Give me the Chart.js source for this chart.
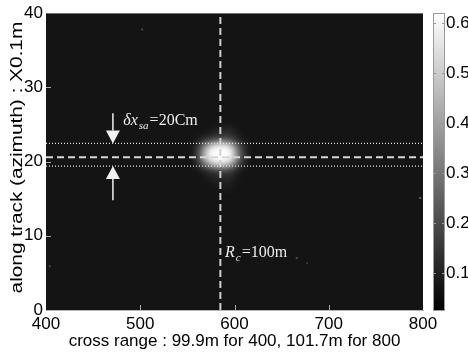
<!DOCTYPE html>
<html>
<head>
<meta charset="utf-8">
<script src="https://cdn.jsdelivr.net/npm/chart.js@4"></script>
<style>
html, body { margin: 0; padding: 0; background: #fff; }
#wrap { position: relative; width: 468px; height: 353px; overflow: hidden; }
#main { position: absolute; left: 0; top: 0; }
#cbar { position: absolute; left: 420px; top: 0; }
</style>
</head>
<body>
<div id="wrap">
  <canvas id="main" width="468" height="353"></canvas>
  <canvas id="cbar" width="48" height="353"></canvas>
</div>
<script>
// ---- axes ----
const xTicks = [400, 500, 600, 700, 800];
const yTicks = [0, 10, 20, 30, 40];
const xTitle = 'cross range : 99.9m for 400, 101.7m for 800';
const yTitle = 'along track (azimuth) : X0.1m';

// ---- colour scale (gray map) ----
const cbMin = 0.024;
const cbMax = 0.62;
const cbTicks = [0.1, 0.2, 0.3, 0.4, 0.5, 0.6];

// ---- image: clutter level and the focused point target ----
const backgroundLevel = 0.07;
const spotCellWidth = 5;     // cross-range bins per cell
const spotCellHeight = 0.5;  // along-track bins per cell
const spotX = [560, 565, 570, 575, 580, 585, 590, 595, 600, 605, 610];
const spotY = [24.5, 24, 23.5, 23, 22.5, 22, 21.5, 21, 20.5, 20, 19.5, 19, 18.5, 18, 17.5, 17, 16.5];
const spotValues = [
  [.07, .07, .07, .08, .09, .10, .11, .11, .10, .08, .07],
  [.07, .07, .08, .09, .10, .11, .12, .12, .10, .08, .07],
  [.07, .08, .09, .10, .12, .13, .14, .13, .11, .09, .07],
  [.08, .10, .13, .16, .19, .21, .21, .19, .15, .11, .08],
  [.10, .15, .23, .31, .37, .40, .39, .34, .25, .16, .10],
  [.13, .22, .36, .50, .58, .61, .60, .53, .38, .23, .13],
  [.15, .27, .45, .60, .62, .62, .62, .61, .46, .27, .14],
  [.16, .29, .48, .62, .62, .62, .62, .62, .49, .29, .15],
  [.16, .29, .47, .62, .62, .62, .62, .62, .48, .28, .15],
  [.14, .25, .41, .56, .62, .62, .62, .57, .42, .25, .13],
  [.11, .18, .28, .38, .45, .48, .46, .40, .29, .18, .10],
  [.08, .11, .15, .20, .24, .26, .26, .23, .17, .11, .08],
  [.07, .08, .10, .12, .14, .15, .16, .15, .12, .09, .07],
  [.07, .07, .09, .10, .11, .12, .13, .12, .10, .08, .07],
  [.07, .07, .08, .09, .10, .11, .11, .11, .09, .07, .07],
  [.07, .07, .07, .08, .09, .10, .10, .10, .08, .07, .07],
  [.07, .07, .07, .07, .08, .09, .09, .09, .08, .07, .07]
];
// isolated bright clutter pixels: [cross range, along track, level]
const specks = [[502, 37.8, 0.20], [404, 5.9, 0.18], [666, 7.0, 0.20], [677, 6.3, 0.16], [797, 15.1, 0.25]];

// ---- annotation geometry (data units) ----
const rcX = 585;                 // scene centre range line
const azCenter = 20.6;           // along-track centre line
const resBand = [19.4, 22.45];   // azimuth resolution cell edges
const arrowX = 471;
const arrowTop = 26.5;
const arrowBottom = 14.8;
const resLabel = { x: 482, y: 24.9, main: 'δx', sub: 'sa', rest: '=20Cm' };
const rcLabel = { x: 590, y: 7.1, main: 'R', sub: 'c', rest: '=100m' };

const fontSans = '"Liberation Sans", Arial, sans-serif';
const fontSerif = '"Liberation Serif", "Times New Roman", serif';

function grayOf(v) {
  const t = Math.max(0, Math.min(1, (v - cbMin) / (cbMax - cbMin)));
  const g = Math.round(t * 255);
  return `rgb(${g},${g},${g})`;
}

const heatmapPlugin = {
  id: 'heatmap',
  beforeDatasetsDraw(chart) {
    const { ctx, chartArea: a, scales: { x, y } } = chart;
    ctx.save();
    ctx.beginPath();
    ctx.rect(a.left, a.top, a.right - a.left, a.bottom - a.top);
    ctx.clip();
    ctx.fillStyle = grayOf(backgroundLevel);
    ctx.fillRect(a.left, a.top, a.right - a.left, a.bottom - a.top);

    // point target response, rendered off-screen then smoothed
    const off = document.createElement('canvas');
    off.width = chart.width; off.height = chart.height;
    const o = off.getContext('2d');
    const hw = spotCellWidth / 2, hh = spotCellHeight / 2;
    spotValues.forEach((row, i) => row.forEach((v, j) => {
      const x0 = x.getPixelForValue(spotX[j] - hw), x1 = x.getPixelForValue(spotX[j] + hw);
      const y0 = y.getPixelForValue(spotY[i] + hh), y1 = y.getPixelForValue(spotY[i] - hh);
      o.fillStyle = grayOf(v);
      o.fillRect(Math.floor(x0), Math.floor(y0), Math.ceil(x1 - x0) + 1, Math.ceil(y1 - y0) + 1);
    }));
    ctx.filter = 'blur(3px)';
    ctx.drawImage(off, 0, 0);
    ctx.filter = 'none';

    specks.forEach(([sx, sy, v]) => {
      const px = x.getPixelForValue(sx), py = y.getPixelForValue(sy);
      ctx.fillStyle = grayOf(v);
      ctx.fillRect(px - 1, py - 1, 2, 2);
    });
    ctx.restore();
  }
};

function drawArrow(ctx, x, tipY, tailY) {
  const dir = tailY < tipY ? 1 : -1; // 1: pointing down
  const headLen = 13, halfW = 7;
  ctx.beginPath();
  ctx.moveTo(x, tailY);
  ctx.lineTo(x, tipY - dir * headLen);
  ctx.stroke();
  ctx.beginPath();
  ctx.moveTo(x, tipY);
  ctx.lineTo(x - halfW, tipY - dir * headLen);
  ctx.lineTo(x + halfW, tipY - dir * headLen);
  ctx.closePath();
  ctx.fill();
}

function drawSubLabel(ctx, px, py, lab) {
  ctx.textBaseline = 'alphabetic';
  ctx.textAlign = 'left';
  ctx.font = `italic 16px ${fontSerif}`;
  ctx.fillText(lab.main, px, py);
  let cx = px + ctx.measureText(lab.main).width + 1;
  ctx.font = `italic 11px ${fontSerif}`;
  ctx.fillText(lab.sub, cx, py + 4);
  cx += ctx.measureText(lab.sub).width + 1;
  ctx.font = `16px ${fontSerif}`;
  ctx.fillText(lab.rest, cx, py);
}

const annotationPlugin = {
  id: 'annotations',
  afterDatasetsDraw(chart) {
    const { ctx, scales: { x, y } } = chart;
    ctx.save();
    ctx.strokeStyle = '#f2f2f2';
    ctx.fillStyle = '#f2f2f2';
    ctx.lineWidth = 1.5;
    const ax = x.getPixelForValue(arrowX);
    drawArrow(ctx, ax, y.getPixelForValue(resBand[1]), y.getPixelForValue(arrowTop));
    drawArrow(ctx, ax, y.getPixelForValue(resBand[0]), y.getPixelForValue(arrowBottom));
    ctx.fillStyle = '#eeeeee';
    drawSubLabel(ctx, x.getPixelForValue(resLabel.x), y.getPixelForValue(resLabel.y), resLabel);
    drawSubLabel(ctx, x.getPixelForValue(rcLabel.x), y.getPixelForValue(rcLabel.y), rcLabel);
    ctx.restore();
  },
  afterDraw(chart) {
    const { ctx, chartArea: a, scales: { x, y } } = chart;
    ctx.save();
    // inward tick marks
    ctx.strokeStyle = '#a8a8a8';
    ctx.lineWidth = 1;
    xTicks.slice(1, -1).forEach(v => {
      const px = Math.round(x.getPixelForValue(v)) + 0.5;
      ctx.beginPath(); ctx.moveTo(px, a.bottom); ctx.lineTo(px, a.bottom - 5); ctx.stroke();
    });
    yTicks.slice(1, -1).forEach(v => {
      const py = Math.round(y.getPixelForValue(v)) + 0.5;
      ctx.beginPath(); ctx.moveTo(a.left, py); ctx.lineTo(a.left + 5, py); ctx.stroke();
    });
    // rotated along-track title
    ctx.translate(18, (a.top + a.bottom) / 2 - 4);
    ctx.rotate(-Math.PI / 2);
    ctx.scale(1.3, 1);
    ctx.font = `16px ${fontSans}`;
    ctx.textAlign = 'center';
    ctx.textBaseline = 'middle';
    ctx.fillStyle = '#000';
    ctx.fillText(yTitle, 0, 0);
    ctx.restore();
  }
};

function lineSet(points, color, width, dash) {
  return {
    data: points, showLine: true, borderColor: color, borderWidth: width,
    borderDash: dash, pointRadius: 0, fill: false, tension: 0
  };
}

new Chart(document.getElementById('main'), {
  type: 'scatter',
  data: {
    datasets: [
      lineSet([{ x: xTicks[0], y: resBand[1] }, { x: xTicks[xTicks.length - 1], y: resBand[1] }], '#e4e4e4', 1.2, [1, 2]),
      lineSet([{ x: xTicks[0], y: resBand[0] }, { x: xTicks[xTicks.length - 1], y: resBand[0] }], '#e4e4e4', 1.2, [1, 2]),
      lineSet([{ x: xTicks[0], y: azCenter }, { x: xTicks[xTicks.length - 1], y: azCenter }], '#d6d6d6', 2, [7, 4]),
      lineSet([{ x: rcX, y: yTicks[0] }, { x: rcX, y: yTicks[yTicks.length - 1] }], '#d0d0d0', 2, [7, 4])
    ]
  },
  options: {
    responsive: false,
    animation: false,
    devicePixelRatio: 1,
    layout: { padding: { left: 0, top: 13, right: 45, bottom: 0 } },
    plugins: { legend: { display: false }, tooltip: { enabled: false } },
    scales: {
      x: {
        type: 'linear', min: xTicks[0], max: xTicks[xTicks.length - 1],
        afterBuildTicks(s) { s.ticks = xTicks.map(v => ({ value: v })); },
        afterFit(s) { s.height = 43; },
        grid: { display: false, drawTicks: false, tickLength: 0 },
        border: { display: true, color: '#b4b4b4', width: 1 },
        ticks: { font: { family: fontSans, size: 17 }, color: '#000', padding: 4, maxRotation: 0 },
        title: { display: true, text: xTitle, font: { family: fontSans, size: 17 }, color: '#000', padding: { top: 0, bottom: 1 } }
      },
      y: {
        type: 'linear', min: yTicks[0], max: yTicks[yTicks.length - 1],
        afterBuildTicks(s) { s.ticks = yTicks.map(v => ({ value: v })); },
        afterFit(s) { s.width = 46; },
        grid: { display: false, drawTicks: false, tickLength: 0 },
        border: { display: true, color: '#b4b4b4', width: 1 },
        ticks: { font: { family: fontSans, size: 17 }, color: '#000', padding: 3 }
      }
    }
  },
  plugins: [heatmapPlugin, annotationPlugin]
});

// ---- colour bar ----
const colorbarFrame = {
  id: 'colorbarFrame',
  afterDatasetsDraw(chart) {
    const { ctx, chartArea: a, scales: { y } } = chart;
    ctx.save();
    ctx.strokeStyle = '#9a9a9a';
    ctx.lineWidth = 1;
    ctx.strokeRect(Math.round(a.left) + 0.5, Math.round(a.top) + 0.5, Math.round(a.right - a.left) - 1, Math.round(a.bottom - a.top) - 1);
    cbTicks.forEach(v => {
      const py = Math.round(y.getPixelForValue(v)) + 0.5;
      ctx.beginPath(); ctx.moveTo(a.left, py); ctx.lineTo(a.left + 3, py); ctx.stroke();
      ctx.beginPath(); ctx.moveTo(a.right, py); ctx.lineTo(a.right - 3, py); ctx.stroke();
    });
    ctx.restore();
  }
};

new Chart(document.getElementById('cbar'), {
  type: 'bar',
  data: {
    labels: ['level'],
    datasets: [{
      data: [[cbMin, cbMax]],
      backgroundColor(c) {
        const a = c.chart.chartArea;
        if (!a) return '#808080';
        const g = c.chart.ctx.createLinearGradient(0, a.bottom, 0, a.top);
        g.addColorStop(0, grayOf(cbMin));
        g.addColorStop(1, grayOf(cbMax));
        return g;
      },
      borderWidth: 0,
      barPercentage: 1,
      categoryPercentage: 1
    }]
  },
  options: {
    responsive: false,
    animation: false,
    devicePixelRatio: 1,
    layout: { padding: { left: 13, top: 13, right: 0, bottom: 42 } },
    plugins: { legend: { display: false }, tooltip: { enabled: false } },
    scales: {
      x: { display: false },
      y: {
        position: 'right', min: cbMin, max: cbMax,
        afterBuildTicks(s) { s.ticks = cbTicks.map(v => ({ value: v })); },
        afterFit(s) { s.width = 23; },
        grid: { display: false, drawTicks: false, tickLength: 0 },
        border: { display: false },
        ticks: { font: { family: fontSans, size: 17 }, color: '#000', padding: 1, callback: v => Number(v).toFixed(1) }
      }
    }
  },
  plugins: [colorbarFrame]
});
</script>
</body>
</html>
